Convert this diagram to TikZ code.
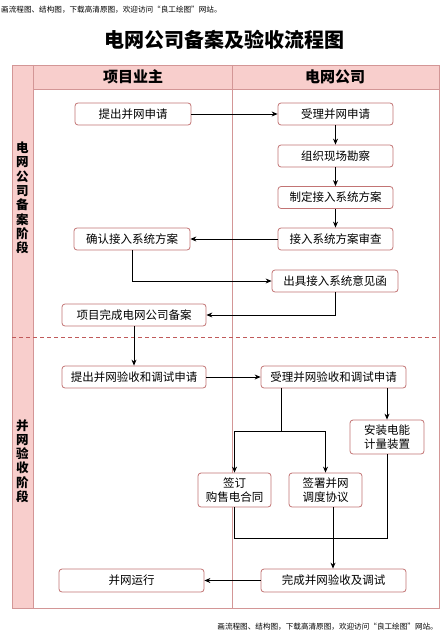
\documentclass[tikz,border=0pt]{standalone}
\usepackage{fontspec}
\setmainfont{Noto Sans CJK SC}
\usetikzlibrary{arrows.meta}
\definecolor{lanefill}{HTML}{F8CECC}
\definecolor{laneline}{HTML}{D39696}
\definecolor{boxline}{HTML}{C27474}
\definecolor{dashline}{HTML}{C05A5A}
\begin{document}
\begin{tikzpicture}[x=1pt,y=-1pt,
  box/.style={draw=boxline, fill=white, rounded corners=3pt, line width=0.8pt,
    font=\fontsize{11.5}{14}\selectfont, inner sep=0pt, align=center, minimum height=22},
  arr/.style={draw=black, line width=0.8pt, -{Stealth[length=6pt,width=5pt]}},
  ln/.style={draw=black, line width=0.8pt},
  wm/.style={font=\fontsize{7.6}{9}\selectfont, inner sep=0pt},
  phase/.style={font=\fontsize{12.5}{14.3}\selectfont\bfseries, align=center, inner sep=0pt},
  hdr/.style={font=\fontsize{15}{18}\selectfont\bfseries, inner sep=0pt}]
\useasboundingbox (0,0) rectangle (444,636);
% watermarks and title
\node[wm, anchor=west] (wm1) at (1,10) {画流程图、结构图，下载高清原图，欢迎访问“良工绘图”网站。};
\node[wm, anchor=east] (wm2) at (438,627) {画流程图、结构图，下载高清原图，欢迎访问“良工绘图”网站。};
\node[font=\fontsize{20}{24}\selectfont\bfseries] (title) at (224,40) {电网公司备案及验收流程图};
% frame
\fill[lanefill] (12,65) rectangle (33,608);
\fill[lanefill] (33,65) rectangle (439,89);
\draw[laneline, line width=0.9pt] (12,65) rectangle (439,608);
\draw[laneline, line width=0.9pt] (33,65) -- (33,608);
\draw[laneline, line width=0.9pt] (33,89) -- (439,89);
\draw[laneline, line width=0.9pt] (232,65) -- (232,608);
\draw[dashline, line width=0.7pt, dash pattern=on 4pt off 3pt] (12,337) -- (439,337);
\node[hdr] (h1) at (133,77) {项目业主};
\node[hdr] (h2) at (335,77) {电网公司};
\node[phase] (p1) at (22.5,198) {电\\网\\公\\司\\备\\案\\阶\\段};
\node[phase] (p2) at (22.5,461) {并\\网\\验\\收\\阶\\段};
% nodes
\node[box, minimum width=116] (a1) at (133,114) {提出并网申请};
\node[box, minimum width=115] (b1) at (335.5,114) {受理并网申请};
\node[box, minimum width=115] (b2) at (335.5,156) {组织现场勘察};
\node[box, minimum width=115] (b3) at (335.5,197.5) {制定接入系统方案};
\node[box, minimum width=115] (b4) at (335.5,239) {接入系统方案审查};
\node[box, minimum width=116] (a2) at (132,239) {确认接入系统方案};
\node[box, minimum width=126] (b5) at (335,281) {出具接入系统意见函};
\node[box, minimum width=144] (a3) at (134,315) {项目完成电网公司备案};
\node[box, minimum width=144] (a4) at (134,377) {提出并网验收和调试申请};
\node[box, minimum width=145] (b6) at (333.5,377) {受理并网验收和调试申请};
\node[box, minimum width=74, minimum height=34] (c3) at (387,437) {安装电能\\计量装置};
\node[box, minimum width=73, minimum height=34] (c1) at (234.5,490) {签订\\购售电合同};
\node[box, minimum width=73, minimum height=34] (c2) at (325.5,490) {签署并网\\调度协议};
\node[box, minimum width=145, minimum height=23] (b7) at (333.5,580.5) {完成并网验收及调试};
\node[box, minimum width=145, minimum height=23] (a5) at (131.5,580.5) {并网运行};
% connectors
\draw[arr] (a1) -- (b1);
\draw[arr] (b1) -- (b2);
\draw[arr] (b2) -- (b3);
\draw[arr] (b3) -- (b4);
\draw[arr] (b4) -- (a2);
\draw[arr] (a2.south) |- (b5.west);
\draw[arr] (b5.south) |- (a3.east);
\draw[arr] (a3) -- (a4);
\draw[arr] (a4) -- (b6);
\coordinate (s1) at (281,431);
\draw[ln] (b6.south -| s1) -- (s1);
\draw[arr] (s1) -| (c1.north);
\draw[arr] (s1) -| (c2.north);
\draw[arr] (b6.south -| c3.north) -- (c3.north);
\coordinate (m) at (333,538);
\draw[ln] (c1.south) |- (m);
\draw[ln] (c3.south) |- (m);
\draw[arr] (c2.south -| m) -- (b7.north -| m);
\draw[arr] (b7) -- (a5);
\end{tikzpicture}
\end{document}
